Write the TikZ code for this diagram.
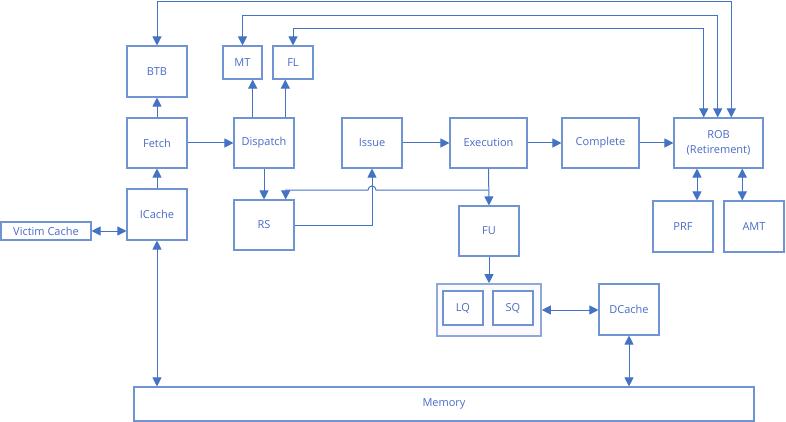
\documentclass[tikz,border=0pt]{standalone}
\usepackage{fontspec}
\setmainfont{Open Sans}
\usetikzlibrary{arrows.meta}
\definecolor{ln}{HTML}{4472C4}
\definecolor{bx}{HTML}{6F93D3}
\definecolor{tx}{HTML}{4A6CC8}
\definecolor{lsq}{HTML}{8FA8D8}
\tikzset{
  blk/.style={draw=bx, line width=1.1pt, fill=white, inner sep=0pt, text=tx,
    font=\fontsize{11}{15}\selectfont, align=center},
  arr/.style={draw=ln, line width=1pt, -{Triangle[length=9pt,width=9pt]}},
  arrb/.style={draw=ln, line width=1pt, {Triangle[length=9pt,width=9pt]}-{Triangle[length=9pt,width=9pt]}},
}
\begin{document}
\begin{tikzpicture}[x=1pt,y=-1pt]
\useasboundingbox (0,0) rectangle (786,422);
% boxes
\node[blk, minimum width=60, minimum height=51] (btb) at (157,71.5) {BTB};
\node[blk, minimum width=39, minimum height=33] (mt) at (242.5,62.5) {MT};
\node[blk, minimum width=40, minimum height=33] (fl) at (293,62.5) {FL};
\node[blk, minimum width=60, minimum height=50] (fetch) at (157,143) {Fetch};
\node[blk, minimum width=60, minimum height=50] (disp) at (264,143) {Dispatch};
\node[blk, minimum width=60, minimum height=50] (issue) at (372,143) {Issue};
\node[blk, minimum width=77, minimum height=50] (exec) at (488.5,143) {Execution};
\node[blk, minimum width=77, minimum height=50] (comp) at (600.5,143) {Complete};
\node[blk, minimum width=89, minimum height=50] (rob) at (718.5,143) {ROB\\(Retirement)};
\node[blk, minimum width=60, minimum height=51] (icache) at (157,214.5) {ICache};
\node[blk, minimum width=60, minimum height=50] (rs) at (264,225) {RS};
\node[blk, minimum width=60, minimum height=50] (fu) at (489,231) {FU};
\node[blk, minimum width=60, minimum height=51] (prf) at (683,226.5) {PRF};
\node[blk, minimum width=60, minimum height=51] (amt) at (754,226.5) {AMT};
\node[blk, minimum width=90, minimum height=18] (victim) at (46,231) {Victim Cache};
\node[blk, draw=lsq, line width=1.6pt, fill=blue!2, minimum width=104, minimum height=52] (lsq) at (489,310) {};
\node[blk, minimum width=40, minimum height=34] (lq) at (463,308) {LQ};
\node[blk, minimum width=40, minimum height=34] (sq) at (513,308) {SQ};
\node[blk, minimum width=60, minimum height=51] (dcache) at (629,309.5) {DCache};
\node[blk, minimum width=620, minimum height=34] (mem) at (444,404) {Memory};
% pipeline connectors
\draw[arr] (icache.north) -- (fetch.south);
\draw[arr] (fetch.north) -- (btb.south);
\draw[arr] (fetch.east) -- (disp.west);
\draw[arr] ([xshift=-11.3pt]disp.north) -- ([xshift=-11.3pt]disp.north |- mt.south);
\draw[arr] ([xshift=21.3pt]disp.north) -- ([xshift=21.3pt]disp.north |- fl.south);
\draw[arr] (disp.south) -- (rs.north);
\draw[arr] (rs.east) -| (issue.south);
\draw[arr] (issue.east) -- (exec.west);
\draw[arr] (exec.east) -- (comp.west);
\draw[arr] (comp.east) -- (rob.west);
\draw[arr] (exec.south) -- (fu.north);
\coordinate (j) at (488.5,190);
\draw[arr] (j) -- (376,190) arc[start angle=0, end angle=180, radius=4pt] -- (285.7,190) -- ([xshift=21.7pt]rs.north);
% retirement feedback
\draw[arrb] (btb.north) |- (731.3,1.5) -- ([xshift=12.8pt]rob.north);
\draw[arrb] (mt.north) |- (717.7,16) -- ([xshift=-0.8pt]rob.north);
\draw[arrb] (fl.north) |- (703.7,28.7) -- ([xshift=-14.8pt]rob.north);
\draw[arrb] ([xshift=-21.5pt]rob.south) -- ([xshift=-21.5pt]rob.south |- prf.north);
\draw[arrb] ([xshift=23.8pt]rob.south) -- ([xshift=23.8pt]rob.south |- amt.north);
% memory side
\draw[arrb] (victim.east) -- (victim.east -| icache.west);
\draw[arrb] (icache.south) -- (icache.south |- mem.north);
\draw[arr] (fu.south) -- (fu.south |- lsq.north);
\draw[arrb] (lsq.east) -- (lsq.east -| dcache.west);
\draw[arrb] (dcache.south) -- (dcache.south |- mem.north);
\end{tikzpicture}
\end{document}
